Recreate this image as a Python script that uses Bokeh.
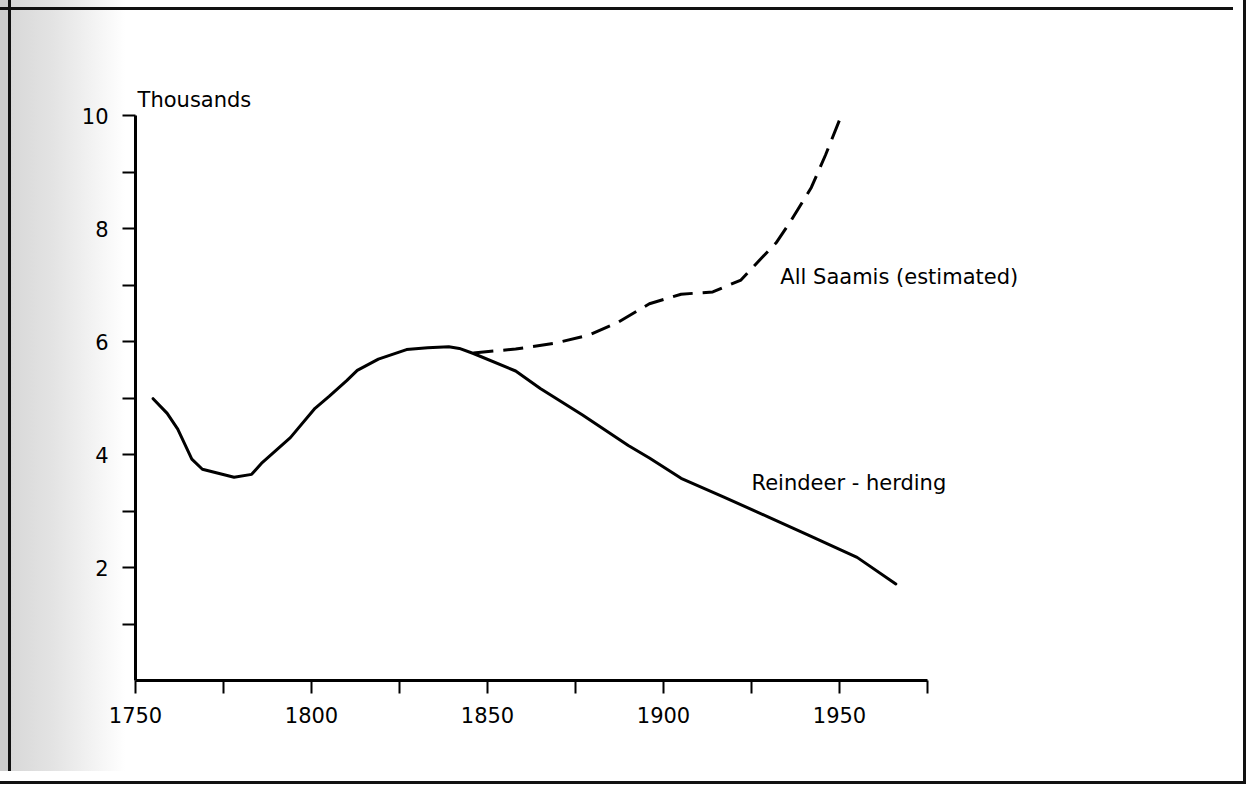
from bokeh.plotting import figure
from bokeh.models import Range1d, FixedTicker, Label
from bokeh.embed import file_html
from bokeh.resources import INLINE

# Reindeer-herding Saamis (thousands)
herding_years = [1755, 1759, 1762, 1766, 1769, 1778, 1783, 1786, 1794, 1801, 1805, 1810,
                 1813, 1819, 1827, 1833, 1839, 1842, 1846, 1858, 1865, 1877, 1890, 1896,
                 1905, 1917, 1930, 1941, 1955, 1966]
herding = [4.99, 4.73, 4.45, 3.92, 3.74, 3.60, 3.65, 3.86, 4.30, 4.82, 5.03, 5.31,
           5.49, 5.69, 5.86, 5.89, 5.91, 5.88, 5.79, 5.48, 5.17, 4.70, 4.16, 3.94,
           3.58, 3.25, 2.89, 2.58, 2.18, 1.71]

# All Saamis (estimated), thousands
all_years = [1846, 1858, 1869, 1879, 1887, 1896, 1905, 1914, 1922, 1928, 1932, 1936,
             1942, 1946, 1950.5]
all_saamis = [5.80, 5.87, 5.97, 6.12, 6.34, 6.67, 6.84, 6.88, 7.09, 7.49, 7.75, 8.12,
              8.73, 9.30, 10.0]

x_major = [1750, 1800, 1850, 1900, 1950]
x_minor = [1775, 1825, 1875, 1925, 1975]
y_major = [2, 4, 6, 8, 10]
y_minor = [1, 3, 5, 7, 9]

FONT = "DejaVu Sans"
FS = "21px"

p = figure(width=1233, height=771, output_backend="svg", toolbar_location=None,
           x_range=Range1d(1750, 2050), y_range=Range1d(0, 10.5),
           min_border_left=135, min_border_right=42, min_border_top=87, min_border_bottom=91)

p.xgrid.visible = False
p.ygrid.visible = False
p.outline_line_color = None
p.background_fill_color = "white"
p.border_fill_color = None
p.styles = {
    "outline": "3px solid #111111",
    "outline-offset": "10px",
    "background": ("linear-gradient(to bottom, transparent 0px, transparent 7px, #111111 7px, "
                   "#111111 10px, transparent 10px), "
                   "linear-gradient(to right, #cdcdcd 0px, #cdcdcd 8px, #111111 8px, #111111 11px, "
                   "#d8d8d8 11px, #e4e4e4 55px, #ffffff 125px)"),
}

for ax, bounds, ticks, minors in ((p.xaxis[0], (1750, 1975), x_major, x_minor),
                                  (p.yaxis[0], (0, 10), y_major, y_minor)):
    ax.bounds = bounds
    ax.ticker = FixedTicker(ticks=ticks, minor_ticks=minors)
    ax.axis_line_width = 3
    ax.axis_line_color = "black"
    ax.major_tick_line_width = 2
    ax.minor_tick_line_width = 2
    ax.major_tick_line_color = "black"
    ax.minor_tick_line_color = "black"
    ax.major_tick_out = 13
    ax.major_tick_in = 0
    ax.minor_tick_out = 13
    ax.minor_tick_in = 0
    ax.major_label_text_font = FONT
    ax.major_label_text_font_size = FS
    ax.major_label_text_color = "black"

p.xaxis.major_label_standoff = 13
p.yaxis.major_label_standoff = 14

p.line(herding_years, herding, line_color="black", line_width=3, line_cap="round", line_join="round")
p.line(all_years, all_saamis, line_color="black", line_width=3, line_dash="20 10")

for txt, x, y in (("Thousands", 1750.6, 10.27),
                  ("All Saamis (estimated)", 1933.2, 7.15),
                  ("Reindeer - herding", 1925.0, 3.50)):
    p.add_layout(Label(x=x, y=y, text=txt, text_font=FONT, text_font_size=FS,
                       text_color="black", text_align="left", text_baseline="alphabetic"))

open("out.html", "w").write(file_html(p, INLINE))
